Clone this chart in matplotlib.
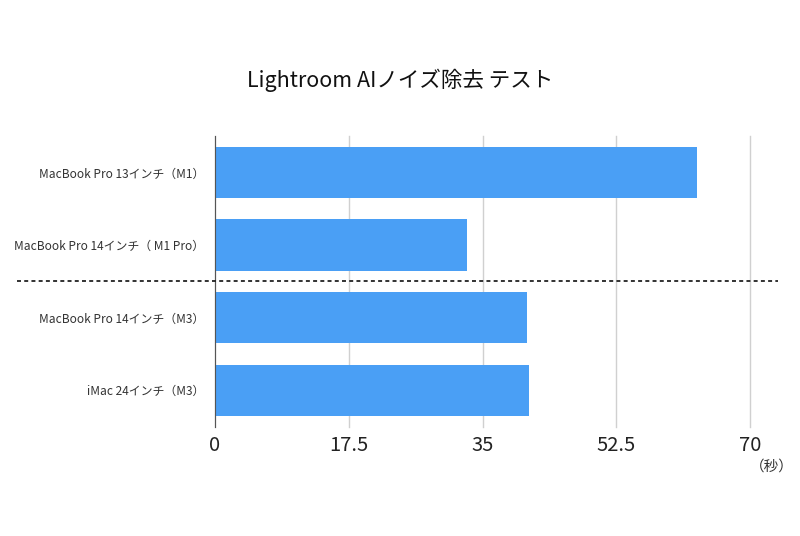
import numpy as np
import matplotlib
matplotlib.use("Agg")
import matplotlib.pyplot as plt
import matplotlib.transforms as mtransforms

plt.rcParams['font.family'] = ['Noto Sans CJK JP', 'DejaVu Sans']

# データ
models = ["MacBook Pro 13インチ（M1）", "MacBook Pro 14インチ（ M1 Pro）",
          "MacBook Pro 14インチ（M3）", "iMac 24インチ（M3）"]
seconds = [63.0, 33.0, 40.8, 41.1]
xticks = [0, 17.5, 35, 52.5, 70]
xtick_labels = ["0", "17.5", "35", "52.5", "70"]

fig = plt.figure(figsize=(8, 5.36), dpi=100)
ax = fig.add_axes([0.26875, 0.204, 0.66875, 0.542])

y = np.arange(len(models))
ax.barh(y, seconds, height=0.71, color="#4a9ff5", zorder=3)

ax.set_ylim(len(models) - 0.5, -0.5)
ax.set_xlim(0, 70)
ax.set_yticks(y)
ax.set_yticklabels(models, fontsize=8.6, color="#333333")
ax.set_xticks(xticks)
ax.set_xticklabels(xtick_labels, fontsize=14.5, color="#222222")
ax.tick_params(axis="y", length=0, pad=8)
ax.tick_params(axis="x", length=0, pad=6)

ax.grid(axis="x", color="#d0d0d0", linewidth=1, zorder=0)
for line in ax.get_xgridlines():
    line.set_clip_on(False)
for s in ["top", "right", "bottom"]:
    ax.spines[s].set_visible(False)
ax.spines["left"].set_color("#555555")
ax.spines["left"].set_zorder(4)

# 区切りの点線（M1 と M3 の間）
trans = mtransforms.blended_transform_factory(ax.transAxes, ax.transData)
ax.plot([-0.37, 1.052], [1.5, 1.5], transform=trans, color="#222222",
        linestyle=(0, (2.2, 1.8)), linewidth=1.3, clip_on=False, zorder=5)

fig.text(0.5, 0.85, "Lightroom AIノイズ除去 テスト", ha="center", va="center",
         fontsize=15.5, color="#111111")
fig.text(0.965, 0.13, "（秒）", ha="center", va="center", fontsize=10.5, color="#333333")

fig.savefig("out.png", dpi=100)
